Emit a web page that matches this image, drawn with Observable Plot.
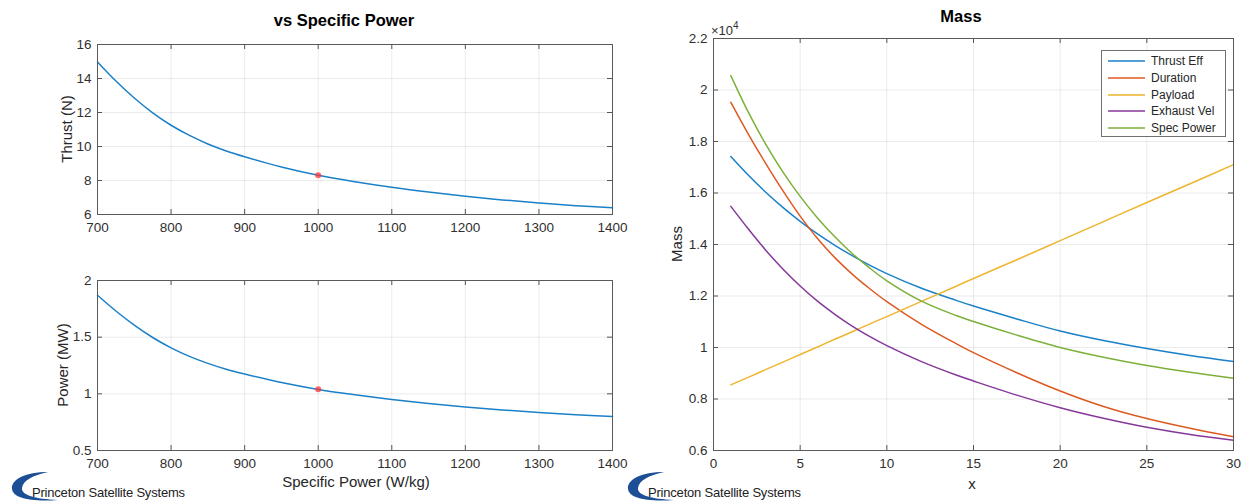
<!DOCTYPE html>
<html><head><meta charset="utf-8">
<script src="https://cdn.jsdelivr.net/npm/d3@7"></script>
<script src="https://cdn.jsdelivr.net/npm/@observablehq/plot@0.6"></script>
<style>
body{margin:0;background:#fff;font-family:"Liberation Sans",Arial,sans-serif;}
#root{position:relative;width:1251px;height:502px;overflow:hidden;background:#fff;}
.abs{position:absolute;white-space:nowrap;}
.c{transform:translate(-50%,-50%);}
.v{transform:translate(-50%,-50%) rotate(-90deg);}
.title{font-weight:bold;font-size:16.5px;color:#000;}
.lab{font-size:15px;color:#262626;}
.legend{position:absolute;border:1px solid #707070;background:#fff;box-sizing:border-box;}
.legrow{position:absolute;left:0;width:120px;height:16px;font-size:12px;color:#262626;white-space:nowrap;}
.logo{position:absolute;width:200px;height:34px;font-size:13px;color:#222;white-space:nowrap;}
</style></head><body><div id="root"></div>
<script>
// ---------- data: left panels (vs Specific Power) ----------
const specPower = [700,725,750,775,800,825,850,875,900,950,1000,1050,1100,1150,1200,1250,1300,1350,1400];
const thrustN   = [14.97,13.85,12.85,11.98,11.25,10.65,10.15,9.74,9.40,8.80,8.31,7.93,7.60,7.32,7.07,6.86,6.68,6.52,6.39];
const powerMW   = [1.870,1.731,1.606,1.497,1.406,1.331,1.269,1.217,1.175,1.100,1.039,0.991,0.950,0.915,0.884,0.858,0.835,0.815,0.799];
const refSpecPower = [1000];
const refThrust = [8.31];
const refPower  = [1.04];
const specPowerTicks = [700,800,900,1000,1100,1200,1300,1400];
const thrustTicks = [6,8,10,12,14,16];
const powerTicks = [0.5,1,1.5,2];

// ---------- data: right panel (Mass, x10^4) ----------
const massX         = [1,2,3,4,5,6,7,8,9,10,12,14,15,17.5,20,22.5,25,27.5,30];
const massThrustEff = [1.742,1.670,1.604,1.544,1.490,1.441,1.397,1.357,1.320,1.287,1.230,1.183,1.161,1.111,1.064,1.027,0.996,0.969,0.946];
const massDuration  = [1.952,1.830,1.716,1.609,1.510,1.423,1.349,1.285,1.229,1.178,1.090,1.015,0.980,0.902,0.831,0.771,0.724,0.686,0.653];
const massPayload   = [0.855,0.884,0.914,0.943,0.973,1.002,1.032,1.061,1.091,1.120,1.179,1.238,1.268,1.341,1.415,1.489,1.563,1.636,1.710];
const massExhaustVel= [1.548,1.461,1.379,1.305,1.239,1.180,1.129,1.083,1.043,1.007,0.945,0.893,0.870,0.815,0.766,0.725,0.690,0.662,0.640];
const massSpecPower = [2.056,1.915,1.791,1.682,1.587,1.503,1.430,1.365,1.309,1.259,1.180,1.124,1.101,1.048,1.000,0.962,0.930,0.904,0.881];
const seriesNames  = ["Thrust Eff","Duration","Payload","Exhaust Vel","Spec Power"];
const seriesColors = ["#1a80c8","#dc5a22","#eeb52e","#86389a","#7cb038"];
const massXTicks = [0,5,10,15,20,25,30];
const massYTicks = [0.6,0.8,1,1.2,1.4,1.6,1.8,2,2.2];

// ---------- helpers ----------
const root = document.getElementById("root");
const FONT = "'Liberation Sans', Arial, sans-serif";
function put(svg, left, top){ svg.style.position="absolute"; svg.style.left = left+"px"; svg.style.top = top+"px"; root.appendChild(svg); }
function text(str, x, y, cls){ const d=document.createElement("div"); d.className="abs "+cls; d.style.left=x+"px"; d.style.top=y+"px"; d.innerHTML=str; root.appendChild(d); return d; }

function panel({width,height,mL,mR,mT,mB,xDomain,yDomain,xTicks,yTicks,yFormat,lines,dots}){
  const innerH = height-mT-mB, innerW = width-mL-mR, tl = 5;
  return Plot.plot({
    width,height,marginLeft:mL,marginRight:mR,marginTop:mT,marginBottom:mB,
    style:{fontFamily:FONT,fontSize:"13.5px",color:"#303030",background:"transparent",overflow:"visible"},
    x:{domain:xDomain},
    y:{domain:yDomain},
    marks:[
      Plot.gridX(xTicks,{stroke:"#000",strokeOpacity:0.08}),
      Plot.gridY(yTicks,{stroke:"#000",strokeOpacity:0.08}),
      Plot.tickX(xTicks,{x:d=>d,insetTop:innerH-tl,stroke:"#555"}),
      Plot.tickX(xTicks,{x:d=>d,insetBottom:innerH-tl,stroke:"#555"}),
      Plot.tickY(yTicks,{y:d=>d,insetRight:innerW-tl,stroke:"#555"}),
      Plot.tickY(yTicks,{y:d=>d,insetLeft:innerW-tl,stroke:"#555"}),
      Plot.axisX(xTicks,{tickSize:0,tickPadding:8,label:null,tickFormat:d=>String(d)}),
      Plot.axisY(yTicks,{tickSize:0,tickPadding:6,label:null,tickFormat:yFormat||(d=>String(d))}),
      ...lines,
      ...(dots||[]),
      Plot.frame({stroke:"#5a5a5a",strokeWidth:1})
    ]
  });
}

// ---------- top-left: Thrust ----------
const thrustRows = specPower.map((s,i)=>({s,v:thrustN[i]}));
put(panel({width:630,height:210,mL:97,mR:18,mT:14,mB:26,
  xDomain:[700,1400],yDomain:[6,16],xTicks:specPowerTicks,yTicks:thrustTicks,
  lines:[Plot.line(thrustRows,{x:"s",y:"v",stroke:seriesColors[0],strokeWidth:1.5,curve:"catmull-rom"})],
  dots:[Plot.dot(refSpecPower.map((s,i)=>({s,v:refThrust[i]})),{x:"s",y:"v",r:3,fill:"#ff3535",fillOpacity:0.75})]
}), 0, 30);

// ---------- bottom-left: Power ----------
const powerRows = specPower.map((s,i)=>({s,v:powerMW[i]}));
put(panel({width:630,height:215,mL:97,mR:18,mT:20,mB:25,
  xDomain:[700,1400],yDomain:[0.5,2],xTicks:specPowerTicks,yTicks:powerTicks,
  lines:[Plot.line(powerRows,{x:"s",y:"v",stroke:seriesColors[0],strokeWidth:1.5,curve:"catmull-rom"})],
  dots:[Plot.dot(refSpecPower.map((s,i)=>({s,v:refPower[i]})),{x:"s",y:"v",r:3,fill:"#ff3535",fillOpacity:0.75})]
}), 0, 260);

// ---------- right: Mass ----------
const massSeries = [massThrustEff,massDuration,massPayload,massExhaustVel,massSpecPower];
const massRows = massSeries.flatMap((arr,k)=>arr.map((v,i)=>({x:massX[i],v,name:seriesNames[k]})));
put(panel({width:611,height:465,mL:73,mR:18,mT:28,mB:25,
  xDomain:[0,30],yDomain:[0.6,2.2],xTicks:massXTicks,yTicks:massYTicks,
  yFormat:d=>String(+d.toFixed(1)),
  lines:seriesNames.map((n,k)=>Plot.line(massRows.filter(r=>r.name===n),{x:"x",y:"v",stroke:seriesColors[k],strokeWidth:1.5,curve:"catmull-rom"}))
}), 640, 10);

// ---------- texts ----------
text("vs Specific Power",344,20,"c title");
text("Mass",961,16,"c title");
text("Thrust (N)",66,129,"v lab");
text("Power (MW)",62,365,"v lab");
text("Specific Power (W/kg)",356,481,"c lab");
text("Mass",676,244,"v lab");
text("x",972,483,"c lab");
const ex = text("&times;10<sup style='font-size:10px;position:relative;top:-1px'>4</sup>",711,21,"");
ex.style.fontSize="13px"; ex.style.color="#303030";

// ---------- legend ----------
const leg=document.createElement("div"); leg.className="legend";
Object.assign(leg.style,{left:"1101px",top:"50px",width:"125px",height:"87px"});
seriesNames.forEach((n,k)=>{
  const row=document.createElement("div"); row.className="legrow";
  row.style.top=(2+k*16.8)+"px";
  row.innerHTML=`<svg width="46" height="16" style="position:absolute;left:0;top:0"><line x1="6" x2="43" y1="8" y2="8" stroke="${seriesColors[k]}" stroke-width="1.5"/></svg><span style="position:absolute;left:49px;top:0;line-height:16px">${n}</span>`;
  leg.appendChild(row);
});
root.appendChild(leg);

// ---------- logos ----------
function logo(left){
  const d=document.createElement("div"); d.className="logo";
  d.style.left=left+"px"; d.style.top="468px";
  d.innerHTML=`<svg width="80" height="34" style="position:absolute;left:0;top:0"><path d="M40 4 C18 4 3 11 4 21 C5 30 22 34 50 32 C27 31 13 27 14 20 C15 12 26 7 40 4 Z" fill="#1d4f96"/></svg><span style="position:absolute;left:24px;top:17px;letter-spacing:-0.2px">Princeton Satellite Systems</span>`;
  root.appendChild(d);
}
logo(8); logo(624);
</script></body></html>
